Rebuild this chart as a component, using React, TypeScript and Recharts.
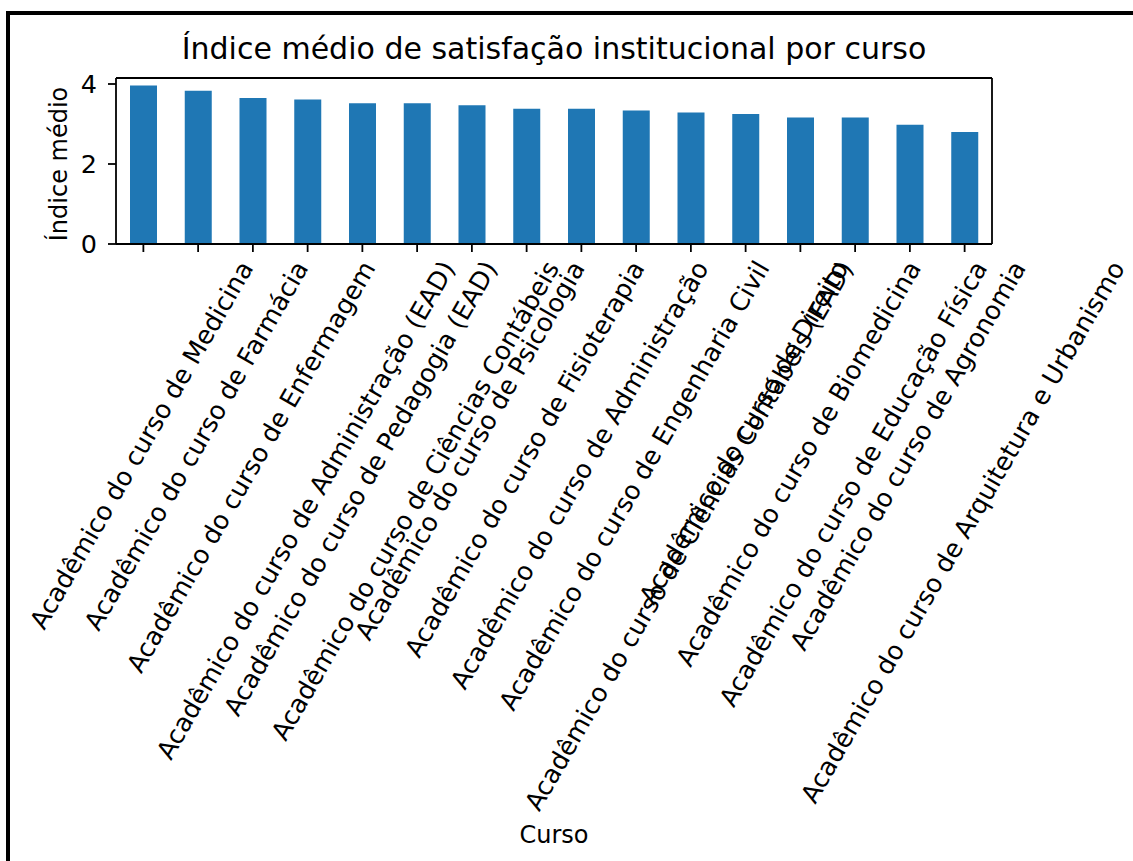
import React from 'react';
import { BarChart, Bar, XAxis, YAxis } from 'recharts';

const courses = [
  'Acadêmico do curso de Medicina',
  'Acadêmico do curso de Farmácia',
  'Acadêmico do curso de Enfermagem',
  'Acadêmico do curso de Administração (EAD)',
  'Acadêmico do curso de Pedagogia (EAD)',
  'Acadêmico do curso de Ciências Contábeis',
  'Acadêmico do curso de Psicologia',
  'Acadêmico do curso de Fisioterapia',
  'Acadêmico do curso de Administração',
  'Acadêmico do curso de Engenharia Civil',
  'Acadêmico do curso de Ciências Contábeis (EAD)',
  'Acadêmico do curso de Direito',
  'Acadêmico do curso de Biomedicina',
  'Acadêmico do curso de Educação Física',
  'Acadêmico do curso de Agronomia',
  'Acadêmico do curso de Arquitetura e Urbanismo',
];

const meanIndex = [3.96, 3.83, 3.65, 3.61, 3.52, 3.52, 3.47, 3.38, 3.38, 3.34, 3.29, 3.25, 3.16, 3.16, 2.98, 2.8];

const yTicks = [0, 2, 4];

const data = courses.map((curso, i) => ({ curso, indice: meanIndex[i] }));

const FONT = '"DejaVu Sans", sans-serif';
const TICK_FONT = 25.5;
const AXIS_FONT = 24;
const TITLE_FONT = 30;

let ctx: CanvasRenderingContext2D | null = null;
function textWidth(s: string, size: number) {
  if (!ctx) ctx = document.createElement('canvas').getContext('2d');
  if (!ctx) return s.length * size * 0.55;
  ctx.font = `${size}px "DejaVu Sans"`;
  return ctx.measureText(s).width;
}

// rotated 60deg, box centred under the tick and hanging from its top (like matplotlib ha=center)
function SlantedTick(props: any) {
  const { x, y, payload } = props;
  const label = String(payload.value);
  const len = textWidth(label, TICK_FONT);
  const asc = TICK_FONT * 0.76;
  const desc = TICK_FONT * 0.24;
  const ex = x + 0.25 * len + 0.433 * (asc - desc);
  const ey = y + 0.5 * asc;
  return (
    <text
      x={ex}
      y={ey}
      textAnchor="end"
      transform={`rotate(-60 ${ex} ${ey})`}
      fontSize={TICK_FONT}
      fontFamily={FONT}
      fill="#000"
    >
      {label}
    </text>
  );
}

export default function App() {
  return (
    <div style={{ position: 'fixed', left: 0, top: 0, width: 1133, height: 861, overflow: 'hidden', background: '#fff' }}>
      <div
        style={{
          position: 'absolute',
          left: 6,
          top: 11,
          width: 2000,
          height: 2000,
          borderLeft: '4px solid #000',
          borderTop: '4px solid #000',
        }}
      />
      <div style={{ position: 'absolute', left: 0, top: 0 }}>
        <BarChart
          width={1133}
          height={861}
          data={data}
          margin={{ top: 77, right: 140, bottom: 0, left: 36 }}
          barCategoryGap={0}
        >
          <XAxis
            dataKey="curso"
            interval={0}
            height={617}
            tick={<SlantedTick />}
            tickSize={8}
            tickMargin={6}
            axisLine={{ stroke: '#000', strokeWidth: 1.8 }}
            tickLine={{ stroke: '#000', strokeWidth: 1.8 }}
          />
          <XAxis
            xAxisId="top"
            orientation="top"
            dataKey="curso"
            height={1}
            tick={false}
            tickLine={false}
            axisLine={{ stroke: '#000', strokeWidth: 1.8 }}
          />
          <YAxis
            width={80}
            domain={[0, 4.15]}
            ticks={yTicks}
            tickSize={8}
            tickMargin={11}
            tick={{ fill: '#000', fontSize: TICK_FONT, fontFamily: FONT }}
            axisLine={{ stroke: '#000', strokeWidth: 1.8 }}
            tickLine={{ stroke: '#000', strokeWidth: 1.8 }}
          />
          <YAxis
            yAxisId="right"
            orientation="right"
            width={1}
            domain={[0, 4.15]}
            tick={false}
            tickLine={false}
            axisLine={{ stroke: '#000', strokeWidth: 1.8 }}
          />
          <Bar dataKey="indice" fill="#1f77b4" barSize={27} isAnimationActive={false} />
          <text x={554} y={59} textAnchor="middle" fontSize={TITLE_FONT} fontFamily={FONT} fill="#000">
            Índice médio de satisfação institucional por curso
          </text>
          <text
            x={67}
            y={164}
            textAnchor="middle"
            transform="rotate(-90 67 164)"
            fontSize={AXIS_FONT}
            fontFamily={FONT}
            fill="#000"
          >
            Índice médio
          </text>
          <text x={554} y={843} textAnchor="middle" fontSize={AXIS_FONT} fontFamily={FONT} fill="#000">
            Curso
          </text>
        </BarChart>
      </div>
    </div>
  );
}
